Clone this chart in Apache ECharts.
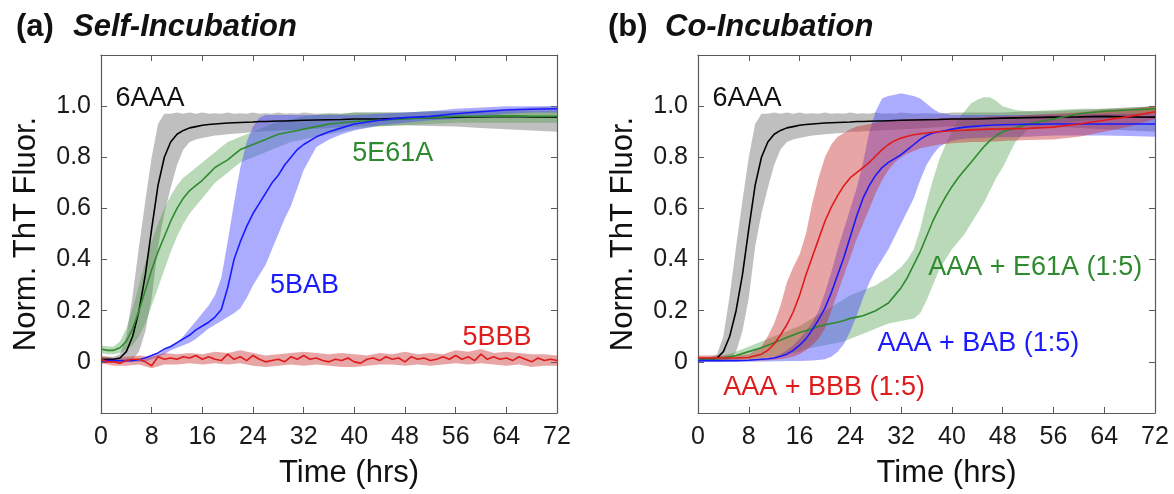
<!DOCTYPE html>
<html>
<head>
<meta charset="utf-8">
<script src="https://cdn.jsdelivr.net/npm/echarts@6/dist/echarts.min.js"></script>
<style>
  html, body { margin: 0; padding: 0; background: #fff; }
  #chart { width: 1174px; height: 494px; }
</style>
</head>
<body>
<div id="chart"></div>
<script>
// ---- data ----
// panel (a) time grid, hours
var tA = [0,1,2,3,4,5,6,7,8,9,10,11,12,13,14,15,16,17,18,19,20,21,22,23,24,25,26,27,28,29,30,31,32,34,36,38,40,44,48,52,56,60,64,68,72];

var aaa6 = [0.01,0.01,0.01,0.015,0.04,0.1,0.2,0.34,0.52,0.69,0.8,0.86,0.89,0.905,0.915,0.92,0.925,0.928,0.93,0.932,0.934,0.935,0.936,0.937,0.938,0.94,0.94,0.941,0.942,0.942,0.943,0.944,0.945,0.946,0.947,0.948,0.95,0.95,0.953,0.955,0.957,0.958,0.96,0.958,0.957];
var aaa6Up = [0.02,0.02,0.02,0.03,0.1,0.26,0.45,0.63,0.8,0.93,0.97,0.97,0.975,0.97,0.975,0.97,0.975,0.97,0.972,0.97,0.975,0.97,0.972,0.97,0.975,0.97,0.972,0.97,0.975,0.97,0.972,0.97,0.975,0.97,0.972,0.97,0.975,0.975,0.975,0.98,0.98,0.985,0.99,0.995,1.0];
var aaa6Lo = [0,0,0,0,0,0.01,0.04,0.12,0.25,0.45,0.58,0.68,0.77,0.83,0.86,0.87,0.875,0.88,0.885,0.887,0.89,0.892,0.894,0.896,0.9,0.9,0.902,0.903,0.905,0.906,0.907,0.908,0.91,0.912,0.915,0.918,0.92,0.922,0.925,0.922,0.92,0.915,0.91,0.905,0.9];

var e61a5 = [0.05,0.045,0.045,0.055,0.08,0.13,0.2,0.28,0.36,0.43,0.49,0.55,0.6,0.64,0.67,0.69,0.71,0.735,0.76,0.775,0.79,0.81,0.83,0.84,0.85,0.86,0.87,0.88,0.89,0.895,0.9,0.905,0.91,0.92,0.93,0.935,0.94,0.945,0.95,0.955,0.96,0.96,0.962,0.96,0.96];
var e61a5Up = [0.065,0.06,0.06,0.08,0.13,0.21,0.3,0.39,0.47,0.54,0.6,0.65,0.69,0.72,0.74,0.76,0.78,0.8,0.82,0.84,0.86,0.87,0.88,0.89,0.9,0.91,0.92,0.93,0.94,0.945,0.95,0.955,0.96,0.965,0.97,0.97,0.975,0.975,0.975,0.98,0.98,0.98,0.98,0.98,0.98];
var e61a5Lo = [0.035,0.03,0.03,0.035,0.045,0.065,0.1,0.15,0.22,0.29,0.36,0.43,0.49,0.54,0.58,0.61,0.64,0.67,0.7,0.72,0.74,0.76,0.78,0.79,0.8,0.81,0.82,0.83,0.84,0.85,0.86,0.865,0.87,0.88,0.89,0.9,0.91,0.92,0.925,0.93,0.935,0.935,0.935,0.935,0.935];

var bab5 = [0.005,0.005,0.005,0.005,0.005,0.005,0.008,0.015,0.025,0.035,0.05,0.06,0.075,0.09,0.105,0.125,0.14,0.155,0.175,0.205,0.29,0.4,0.47,0.53,0.58,0.62,0.66,0.7,0.73,0.77,0.8,0.83,0.85,0.88,0.9,0.915,0.93,0.945,0.955,0.96,0.97,0.978,0.985,0.988,0.99];
var bab5Up = [0.005,0.005,0.005,0.005,0.005,0.005,0.005,0.01,0.02,0.03,0.045,0.06,0.075,0.1,0.13,0.16,0.19,0.22,0.26,0.33,0.47,0.62,0.76,0.86,0.92,0.955,0.965,0.965,0.965,0.965,0.965,0.965,0.965,0.965,0.965,0.965,0.965,0.97,0.975,0.98,0.99,0.995,1.0,1.0,1.0];
var bab5Lo = [0,0,0,0,0,0,0,0,0.01,0.02,0.03,0.045,0.055,0.065,0.075,0.09,0.11,0.13,0.145,0.16,0.175,0.19,0.21,0.25,0.3,0.34,0.38,0.44,0.5,0.56,0.61,0.68,0.75,0.84,0.87,0.89,0.905,0.925,0.935,0.945,0.95,0.96,0.97,0.975,0.975];

// 5BBB: hourly line, 2-hourly band
var tHour = [0,1,2,3,4,5,6,7,8,9,10,11,12,13,14,15,16,17,18,19,20,21,22,23,24,25,26,27,28,29,30,31,32,33,34,35,36,37,38,39,40,41,42,43,44,45,46,47,48,49,50,51,52,53,54,55,56,57,58,59,60,61,62,63,64,65,66,67,68,69,70,71,72];
var bbb5 = [0.01,0.0,0.0,-0.005,0.005,0.01,0.01,0.0,-0.015,0.02,0.01,0.015,0.01,0.02,0.015,0.025,0.01,0.02,0.01,0.005,0.03,0.01,0.02,0.005,0.025,0.01,0.0,0.005,0.01,0.0,0.02,0.01,0.025,0.01,0.015,0.005,0.0,0.01,0.005,0.015,0.0,-0.005,0.01,0.015,0.005,0.02,0.01,0.015,0.0,0.02,0.01,0.015,0.005,0.01,0.02,0.01,0.025,0.01,0.02,0.005,0.03,0.01,0.02,0.01,0.015,0.005,0.02,0.01,0.0,0.015,0.005,0.01,0.005];
var t2h = [0,2,4,6,8,10,12,14,16,18,20,22,24,26,28,30,32,34,36,38,40,42,44,46,48,50,52,54,56,58,60,62,64,66,68,70,72];
var bbb5Up = [0.025,0.015,0.02,0.025,0.02,0.035,0.03,0.035,0.03,0.04,0.035,0.045,0.035,0.025,0.03,0.035,0.04,0.035,0.03,0.035,0.03,0.025,0.035,0.03,0.04,0.03,0.035,0.03,0.045,0.04,0.05,0.035,0.04,0.035,0.03,0.03,0.025];
var bbb5Lo = [-0.005,-0.015,-0.015,-0.01,-0.025,-0.01,-0.01,-0.005,-0.01,-0.005,-0.01,-0.005,-0.015,-0.02,-0.015,-0.01,-0.015,-0.01,-0.015,-0.02,-0.02,-0.015,-0.01,-0.01,-0.015,-0.01,-0.015,-0.01,-0.005,-0.01,-0.005,-0.01,-0.015,-0.01,-0.02,-0.015,-0.015];

// panel (b) time grid, hours
var tB = [0,2,4,6,8,10,11,12,13,14,15,16,17,18,19,20,21,22,23,24,25,26,27,28,29,30,31,32,33,34,35,36,37,38,39,40,41,42,43,44,45,46,47,48,50,52,56,60,64,68,72];

var coBBB = [0.015,0.015,0.015,0.015,0.017,0.03,0.045,0.07,0.105,0.145,0.195,0.26,0.34,0.41,0.48,0.55,0.605,0.65,0.69,0.72,0.74,0.76,0.78,0.805,0.83,0.85,0.865,0.875,0.882,0.888,0.892,0.895,0.898,0.9,0.902,0.904,0.905,0.906,0.907,0.908,0.909,0.91,0.91,0.911,0.912,0.913,0.918,0.93,0.945,0.96,0.978];
var coBBBUp = [0.025,0.025,0.025,0.025,0.03,0.06,0.1,0.15,0.22,0.31,0.37,0.42,0.5,0.62,0.72,0.8,0.85,0.88,0.895,0.91,0.92,0.925,0.93,0.935,0.94,0.94,0.945,0.945,0.95,0.95,0.95,0.952,0.952,0.954,0.955,0.955,0.955,0.956,0.957,0.958,0.958,0.96,0.96,0.96,0.962,0.965,0.97,0.975,0.985,0.99,1.0];
var coBBBLo = [0.005,0.005,0.005,0.005,0.005,0.005,0.006,0.008,0.01,0.015,0.02,0.03,0.045,0.065,0.09,0.13,0.2,0.27,0.34,0.41,0.48,0.54,0.6,0.66,0.71,0.75,0.78,0.8,0.815,0.825,0.835,0.84,0.845,0.85,0.852,0.855,0.857,0.858,0.86,0.86,0.86,0.862,0.862,0.864,0.866,0.868,0.87,0.88,0.9,0.92,0.95];

var coBAB = [0.005,0.005,0.005,0.005,0.006,0.01,0.012,0.015,0.022,0.03,0.045,0.065,0.09,0.125,0.165,0.21,0.27,0.34,0.41,0.49,0.57,0.64,0.69,0.73,0.76,0.78,0.795,0.81,0.83,0.85,0.87,0.885,0.895,0.9,0.905,0.91,0.914,0.918,0.92,0.922,0.924,0.925,0.926,0.927,0.928,0.929,0.93,0.93,0.93,0.93,0.93];
var coBABUp = [0.005,0.005,0.005,0.006,0.008,0.012,0.015,0.02,0.03,0.045,0.065,0.09,0.12,0.155,0.2,0.27,0.35,0.44,0.52,0.6,0.68,0.78,0.9,0.98,1.03,1.04,1.045,1.05,1.045,1.04,1.03,1.01,0.99,0.975,0.97,0.965,0.965,0.965,0.965,0.965,0.965,0.965,0.965,0.965,0.965,0.965,0.967,0.968,0.97,0.97,0.97];
var coBABLo = [0,0,0,0,0,0.001,0.001,0.002,0.002,0.003,0.003,0.003,0.004,0.005,0.007,0.01,0.02,0.04,0.07,0.12,0.18,0.25,0.31,0.36,0.4,0.44,0.49,0.54,0.59,0.64,0.71,0.77,0.81,0.84,0.855,0.865,0.87,0.872,0.874,0.875,0.876,0.877,0.878,0.878,0.879,0.88,0.885,0.885,0.885,0.883,0.88];

var coE61A = [0.01,0.01,0.015,0.025,0.04,0.055,0.065,0.075,0.085,0.095,0.105,0.115,0.122,0.13,0.138,0.145,0.15,0.155,0.162,0.17,0.175,0.18,0.19,0.2,0.215,0.23,0.26,0.29,0.33,0.38,0.43,0.49,0.55,0.6,0.645,0.685,0.72,0.75,0.78,0.81,0.84,0.865,0.885,0.9,0.915,0.93,0.95,0.97,0.98,0.985,0.99];
var coE61AUp = [0.015,0.015,0.025,0.04,0.06,0.08,0.09,0.1,0.11,0.12,0.13,0.14,0.155,0.17,0.185,0.2,0.215,0.23,0.245,0.26,0.27,0.28,0.29,0.3,0.315,0.33,0.35,0.37,0.4,0.44,0.52,0.62,0.71,0.79,0.85,0.9,0.95,0.98,1.01,1.025,1.035,1.035,1.02,1.0,0.985,0.98,0.985,0.99,0.99,0.995,1.0];
var coE61ALo = [0.005,0.005,0.006,0.008,0.01,0.015,0.018,0.02,0.025,0.03,0.035,0.04,0.05,0.055,0.06,0.065,0.07,0.075,0.08,0.09,0.1,0.11,0.12,0.13,0.14,0.15,0.155,0.16,0.165,0.17,0.19,0.24,0.3,0.36,0.4,0.44,0.47,0.5,0.54,0.58,0.62,0.67,0.72,0.76,0.86,0.91,0.93,0.94,0.95,0.96,0.97];

var yTicks = [0, 0.2, 0.4, 0.6, 0.8, 1.0];

// ---- chart ----
var chart = echarts.init(document.getElementById('chart'), null, { renderer: 'canvas' });
var FONT = 'Liberation Sans, Arial, Helvetica, sans-serif';
var AX = '#5a5a5a';

function pairs(t, v) {
  return t.map(function (x, i) { return [x, v[i]]; });
}

function band(g, t, lo, up, fill) {
  return {
    type: 'custom', xAxisIndex: 2 * g, yAxisIndex: 2 * g, silent: true, clip: true,
    data: [[0, 0]],
    renderItem: function (params, api) {
      var pts = [];
      for (var i = 0; i < t.length; i++) pts.push(api.coord([t[i], up[i]]));
      for (var j = t.length - 1; j >= 0; j--) pts.push(api.coord([t[j], lo[j]]));
      return { type: 'polygon', shape: { points: pts }, style: { fill: fill } };
    }
  };
}

function line(g, t, v, color) {
  return {
    type: 'line', xAxisIndex: 2 * g, yAxisIndex: 2 * g, silent: true,
    data: pairs(t, v), showSymbol: false, symbol: 'none',
    lineStyle: { color: color, width: 1.6 }, z: 5
  };
}

function notes(g, items) {
  return {
    type: 'scatter', xAxisIndex: 2 * g, yAxisIndex: 2 * g, silent: true,
    symbolSize: 1, itemStyle: { color: 'rgba(0,0,0,0)', opacity: 1 }, z: 10,
    data: items.map(function (d) {
      return { value: d.at, name: d.text, label: { color: d.color } };
    }),
    label: {
      show: true, position: 'right', distance: 0, formatter: '{b}',
      fontFamily: FONT, fontSize: 27
    }
  };
}

function xAxes(g) {
  var common = {
    type: 'value', gridIndex: g, min: 0, max: 72, interval: 8,
    axisLine: { show: true, onZero: false, lineStyle: { color: AX, width: 1.2 } },
    axisTick: { show: true, inside: true, length: 6, lineStyle: { color: AX } },
    splitLine: { show: false }
  };
  return [
    Object.assign({}, common, {
      position: 'bottom',
      axisLabel: { color: '#1a1a1a', fontFamily: FONT, fontSize: 25, margin: 12 },
      name: 'Time (hrs)', nameLocation: 'middle', nameGap: 45,
      nameTextStyle: { color: '#111', fontFamily: FONT, fontSize: 31, padding: [0, 0, 0, 40] }
    }),
    Object.assign({}, common, { position: 'top', axisLabel: { show: false } })
  ];
}

function yAxes(g) {
  var common = {
    type: 'value', gridIndex: g, min: -0.2, max: 1.2, interval: 0.2,
    axisLine: { show: true, onZero: false, lineStyle: { color: AX, width: 1.2 } },
    axisTick: { show: true, inside: true, length: 6, lineStyle: { color: AX } },
    splitLine: { show: false }
  };
  return [
    Object.assign({}, common, {
      position: 'left',
      axisLabel: {
        color: '#1a1a1a', fontFamily: FONT, fontSize: 25, margin: 10,
        formatter: function (v) {
          for (var i = 0; i < yTicks.length; i++) {
            if (Math.abs(v - yTicks[i]) < 1e-6) return i === 0 ? '0' : yTicks[i].toFixed(1);
          }
          return '';
        }
      },
      name: 'Norm. ThT Fluor.', nameLocation: 'middle', nameGap: 59,
      nameTextStyle: { color: '#111', fontFamily: FONT, fontSize: 31 }
    }),
    Object.assign({}, common, { position: 'right', axisLabel: { show: false } })
  ];
}

function head(text, left, italic) {
  return {
    text: text, left: left, top: 7,
    textStyle: { fontFamily: FONT, fontSize: 31, fontWeight: 'bold',
      fontStyle: italic ? 'italic' : 'normal', color: '#111' }
  };
}

var GRAY = 'rgba(128,128,128,0.5)';
var GREEN = '#2f8a2f', GREEN_B = 'rgba(60,150,60,0.36)';
var BLUE = '#1a1aff', BLUE_B = 'rgba(70,70,255,0.45)';
var RED = '#e01b1b', RED_B = 'rgba(200,40,40,0.42)';

var option = {
  backgroundColor: '#fff',
  animation: false,
  title: [
    head('(a)', 11, false), head('Self-Incubation', 68, true),
    head('(b)', 603, false), head('Co-Incubation', 660, true)
  ],
  grid: [
    { left: 101, right: 617, top: 55, bottom: 81 },
    { left: 698, right: 19, top: 55, bottom: 81 }
  ],
  xAxis: xAxes(0).concat(xAxes(1)),
  yAxis: yAxes(0).concat(yAxes(1)),
  series: [
    // panel (a)
    band(0, tA, aaa6Lo, aaa6Up, GRAY),
    band(0, tA, e61a5Lo, e61a5Up, GREEN_B),
    band(0, tA, bab5Lo, bab5Up, BLUE_B),
    band(0, t2h, bbb5Lo, bbb5Up, RED_B),
    line(0, tA, aaa6, '#000'),
    line(0, tA, e61a5, GREEN),
    line(0, tA, bab5, BLUE),
    line(0, tHour, bbb5, RED),
    notes(0, [
      { at: [2.2, 1.03], text: '6AAA', color: '#111' },
      { at: [39.6, 0.815], text: '5E61A', color: GREEN },
      { at: [26.6, 0.3], text: '5BAB', color: BLUE },
      { at: [57, 0.095], text: '5BBB', color: RED }
    ]),
    // panel (b)
    band(1, tA, aaa6Lo, aaa6Up, GRAY),
    band(1, tB, coE61ALo, coE61AUp, GREEN_B),
    band(1, tB, coBABLo, coBABUp, BLUE_B),
    band(1, tB, coBBBLo, coBBBUp, RED_B),
    line(1, tA, aaa6, '#000'),
    line(1, tB, coE61A, GREEN),
    line(1, tB, coBAB, BLUE),
    line(1, tB, coBBB, RED),
    notes(1, [
      { at: [2.2, 1.03], text: '6AAA', color: '#111' },
      { at: [36.2, 0.37], text: 'AAA + E61A (1:5)', color: GREEN },
      { at: [28.2, 0.07], text: 'AAA + BAB (1:5)', color: BLUE },
      { at: [3.9, -0.1], text: 'AAA + BBB (1:5)', color: RED }
    ])
  ]
};

chart.setOption(option);
</script>
</body>
</html>
